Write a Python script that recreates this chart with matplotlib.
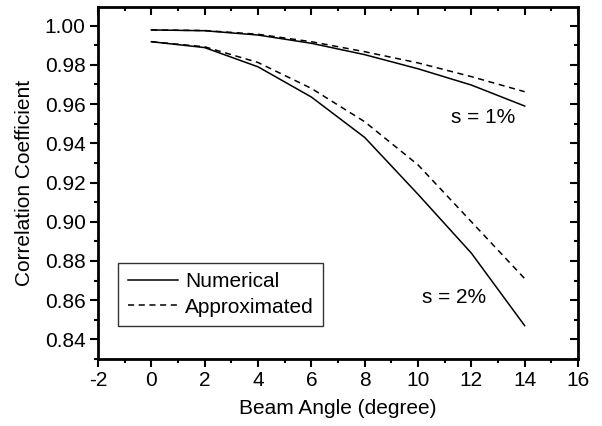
import numpy as np
import matplotlib.pyplot as plt
from matplotlib.ticker import MultipleLocator

plt.rcParams['font.family'] = ['Liberation Sans', 'DejaVu Sans']
plt.rcParams['axes.unicode_minus'] = False

angle = [0, 2, 4, 6, 8, 10, 12, 14]
num_s1 = [0.9978, 0.9974, 0.9952, 0.9910, 0.9852, 0.9780, 0.9697, 0.9590]
app_s1 = [0.9978, 0.9975, 0.9956, 0.9918, 0.9867, 0.9810, 0.9740, 0.9663]
num_s2 = [0.9918, 0.9888, 0.9790, 0.9636, 0.9430, 0.9140, 0.8840, 0.8470]
app_s2 = [0.9918, 0.9892, 0.9812, 0.9680, 0.9510, 0.9290, 0.9000, 0.8710]
yticks = [0.84, 0.86, 0.88, 0.90, 0.92, 0.94, 0.96, 0.98, 1.00]

fs = 15

fig = plt.figure(figsize=(6.02, 4.26), dpi=100)
ax = fig.add_axes([98/602, 1 - 359/426, 480/602, 352/426])

ax.plot(angle, num_s1, 'k-', lw=1.1, label='Numerical')
ax.plot(angle, app_s1, 'k--', lw=1.1, dashes=(4, 3), label='Approximated')
ax.plot(angle, num_s2, 'k-', lw=1.1)
ax.plot(angle, app_s2, 'k--', lw=1.1, dashes=(4, 3))

ax.text(12.45, 0.953, 's = 1%', fontsize=fs, ha='center', va='center')
ax.text(11.35, 0.8614, 's = 2%', fontsize=fs, ha='center', va='center')

ax.set_xlim(-2, 16)
ax.set_ylim(0.83, 1.0095)
ax.xaxis.set_major_locator(MultipleLocator(2))
ax.xaxis.set_minor_locator(MultipleLocator(1))
ax.set_yticks(yticks)
ax.set_yticklabels(['%.2f' % v for v in yticks])
ax.yaxis.set_minor_locator(MultipleLocator(0.01))

for sp in ax.spines.values():
    sp.set_linewidth(2)
ax.tick_params(which='both', direction='out', width=1.5, labelsize=fs, pad=3)
ax.tick_params(which='major', length=6)
ax.tick_params(which='minor', length=3)

# mirrored inward ticks on top and right
top = ax.secondary_xaxis('top')
top.xaxis.set_major_locator(MultipleLocator(2))
top.xaxis.set_minor_locator(MultipleLocator(1))
top.tick_params(which='both', direction='in', width=1.5, labeltop=False)
top.tick_params(which='major', length=6)
top.tick_params(which='minor', length=3)
right = ax.secondary_yaxis('right')
right.yaxis.set_major_locator(MultipleLocator(0.02))
right.yaxis.set_minor_locator(MultipleLocator(0.01))
right.tick_params(which='both', direction='in', width=1.5, labelright=False)
right.tick_params(which='major', length=6)
right.tick_params(which='minor', length=3)

ax.set_xlabel('Beam Angle (degree)', fontsize=fs, labelpad=6)
ax.set_ylabel('Correlation Coefficient', fontsize=fs, labelpad=8)

leg = ax.legend(loc='lower left', bbox_to_anchor=(0.042, 0.094), fontsize=fs,
                frameon=True, fancybox=False, edgecolor='black',
                handlelength=2.4, borderpad=0.45, labelspacing=0.3,
                handletextpad=0.35, borderaxespad=0)
leg.get_frame().set_linewidth(1)

fig.savefig('out.png', dpi=100)
